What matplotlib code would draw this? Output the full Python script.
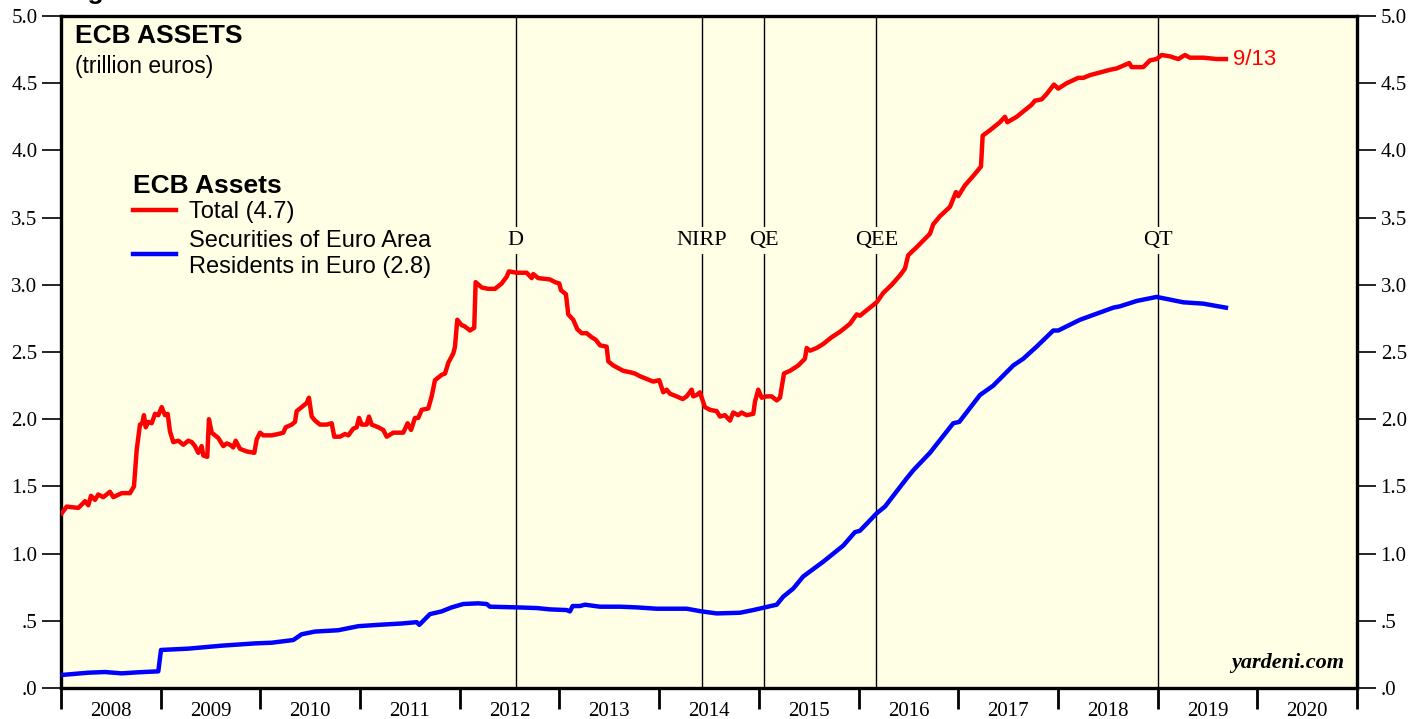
import numpy as np
import matplotlib.pyplot as plt
from matplotlib.ticker import FixedLocator, NullFormatter

# ECB total assets (trillion euros), weekly-ish readings
total_t = [2008.007, 2008.057, 2008.174, 2008.241, 2008.274, 2008.301, 2008.341, 2008.374, 2008.424, 2008.491,
           2008.525, 2008.609, 2008.692, 2008.732, 2008.759, 2008.792, 2008.815, 2008.832, 2008.850, 2008.876,
           2008.910, 2008.943, 2008.976, 2009.010, 2009.043, 2009.070, 2009.093, 2009.126, 2009.177, 2009.227,
           2009.277, 2009.311, 2009.344, 2009.377, 2009.411, 2009.427, 2009.467, 2009.484, 2009.512, 2009.578,
           2009.628, 2009.662, 2009.695, 2009.728, 2009.752, 2009.795, 2009.863, 2009.939, 2009.963, 2009.996,
           2010.029, 2010.113, 2010.180, 2010.230, 2010.254, 2010.314, 2010.347, 2010.364, 2010.430, 2010.464,
           2010.487, 2010.515, 2010.548, 2010.598, 2010.665, 2010.715, 2010.741, 2010.798, 2010.849, 2010.882,
           2010.932, 2010.966, 2010.989, 2011.016, 2011.066, 2011.089, 2011.116, 2011.183, 2011.233, 2011.267,
           2011.333, 2011.433, 2011.477, 2011.511, 2011.551, 2011.584, 2011.618, 2011.684, 2011.718, 2011.751,
           2011.818, 2011.852, 2011.885, 2011.935, 2011.952, 2011.975, 2012.019, 2012.052, 2012.102, 2012.145,
           2012.159, 2012.220, 2012.286, 2012.353, 2012.420, 2012.470, 2012.493, 2012.571, 2012.671, 2012.721,
           2012.737, 2012.787, 2012.905, 2012.955, 2012.998, 2013.015, 2013.065, 2013.088, 2013.138, 2013.179,
           2013.223, 2013.273, 2013.323, 2013.366, 2013.406, 2013.473, 2013.490, 2013.540, 2013.640, 2013.707,
           2013.757, 2013.807, 2013.875, 2013.941, 2014.001, 2014.041, 2014.075, 2014.108, 2014.175, 2014.236,
           2014.276, 2014.326, 2014.342, 2014.376, 2014.409, 2014.459, 2014.509, 2014.577, 2014.610, 2014.660,
           2014.710, 2014.743, 2014.793, 2014.827, 2014.877, 2014.944, 2014.961, 2014.994, 2015.028, 2015.078,
           2015.128, 2015.179, 2015.212, 2015.252, 2015.312, 2015.395, 2015.462, 2015.480, 2015.513, 2015.580,
           2015.646, 2015.730, 2015.813, 2015.914, 2015.981, 2016.014, 2016.097, 2016.182, 2016.248, 2016.332,
           2016.415, 2016.465, 2016.498, 2016.583, 2016.716, 2016.749, 2016.816, 2016.917, 2016.977, 2017.000,
           2017.067, 2017.150, 2017.228, 2017.245, 2017.318, 2017.418, 2017.468, 2017.492, 2017.586, 2017.686,
           2017.736, 2017.769, 2017.837, 2017.887, 2017.960, 2018.003, 2018.087, 2018.204, 2018.254, 2018.321,
           2018.421, 2018.522, 2018.589, 2018.715, 2018.739, 2018.823, 2018.856, 2018.923, 2018.990, 2019.040,
           2019.123, 2019.207, 2019.274, 2019.324, 2019.457, 2019.592, 2019.685]
total_v = [1.30, 1.35, 1.34, 1.39, 1.36, 1.43, 1.40, 1.44, 1.42, 1.46,
           1.42, 1.45, 1.45, 1.50, 1.77, 1.96, 1.97, 2.03, 1.94, 1.98,
           1.97, 2.04, 2.03, 2.09, 2.03, 2.04, 1.91, 1.83, 1.84, 1.81,
           1.84, 1.83, 1.80, 1.75, 1.80, 1.73, 1.72, 2.00, 1.90, 1.86,
           1.80, 1.82, 1.81, 1.79, 1.84, 1.78, 1.76, 1.75, 1.85, 1.90,
           1.88, 1.88, 1.89, 1.90, 1.94, 1.96, 1.98, 2.06, 2.10, 2.12,
           2.16, 2.02, 1.99, 1.96, 1.96, 1.97, 1.87, 1.87, 1.89, 1.88,
           1.93, 1.94, 2.01, 1.96, 1.96, 2.02, 1.96, 1.94, 1.92, 1.87,
           1.90, 1.90, 1.97, 1.92, 2.01, 2.01, 2.07, 2.08, 2.17, 2.29,
           2.33, 2.34, 2.42, 2.49, 2.54, 2.74, 2.70, 2.69, 2.66, 2.68,
           3.02, 2.98, 2.97, 2.97, 3.01, 3.06, 3.10, 3.09, 3.09, 3.05,
           3.08, 3.05, 3.04, 3.02, 3.01, 2.96, 2.93, 2.78, 2.74, 2.67,
           2.64, 2.64, 2.61, 2.59, 2.55, 2.54, 2.43, 2.40, 2.36, 2.35,
           2.34, 2.32, 2.30, 2.28, 2.29, 2.20, 2.22, 2.19, 2.17, 2.15,
           2.17, 2.22, 2.17, 2.18, 2.20, 2.09, 2.07, 2.06, 2.02, 2.03,
           1.99, 2.05, 2.03, 2.05, 2.03, 2.04, 2.13, 2.22, 2.16, 2.17,
           2.17, 2.14, 2.16, 2.34, 2.36, 2.40, 2.45, 2.53, 2.51, 2.53,
           2.56, 2.61, 2.65, 2.71, 2.78, 2.77, 2.82, 2.87, 2.94, 3.00,
           3.07, 3.12, 3.22, 3.28, 3.38, 3.45, 3.51, 3.58, 3.69, 3.66,
           3.74, 3.81, 3.88, 4.11, 4.15, 4.21, 4.25, 4.21, 4.25, 4.31,
           4.34, 4.37, 4.38, 4.42, 4.49, 4.46, 4.50, 4.54, 4.54, 4.56,
           4.58, 4.60, 4.61, 4.65, 4.62, 4.62, 4.62, 4.67, 4.68, 4.71,
           4.70, 4.68, 4.71, 4.69, 4.69, 4.68, 4.68]

# securities of euro area residents in euro
sec_t = [2008.007, 2008.274, 2008.441, 2008.609, 2008.775, 2008.976, 2009.003, 2009.277, 2009.612, 2009.946,
         2010.113, 2010.330, 2010.414, 2010.548, 2010.781, 2010.982, 2011.183, 2011.417, 2011.568, 2011.594,
         2011.701, 2011.818, 2011.919, 2012.035, 2012.186, 2012.270, 2012.303, 2012.571, 2012.771, 2012.905,
         2013.072, 2013.105, 2013.132, 2013.206, 2013.256, 2013.406, 2013.607, 2013.774, 2013.975, 2014.276,
         2014.426, 2014.577, 2014.810, 2014.944, 2015.061, 2015.179, 2015.245, 2015.345, 2015.445, 2015.646,
         2015.847, 2015.964, 2016.014, 2016.182, 2016.265, 2016.483, 2016.549, 2016.716, 2016.950, 2017.010,
         2017.218, 2017.351, 2017.552, 2017.652, 2017.786, 2017.953, 2018.003, 2018.221, 2018.555, 2018.622,
         2018.790, 2018.990, 2019.257, 2019.457, 2019.685]
sec_v = [0.097, 0.114, 0.119, 0.109, 0.117, 0.124, 0.283, 0.293, 0.315, 0.332,
         0.337, 0.357, 0.40, 0.42, 0.43, 0.46, 0.47, 0.48, 0.49, 0.47,
         0.55, 0.57, 0.60, 0.625, 0.63, 0.625, 0.605, 0.60, 0.595, 0.585,
         0.58, 0.57, 0.61, 0.61, 0.62, 0.605, 0.605, 0.60, 0.59, 0.59,
         0.57, 0.555, 0.56, 0.58, 0.60, 0.62, 0.68, 0.74, 0.83, 0.94,
         1.06, 1.16, 1.17, 1.30, 1.35, 1.56, 1.62, 1.75, 1.97, 1.98,
         2.18, 2.25, 2.40, 2.45, 2.54, 2.66, 2.66, 2.74, 2.83, 2.84,
         2.88, 2.91, 2.87, 2.86, 2.83]

event_t = [2012.56, 2014.43, 2015.05, 2016.18, 2019.0]
event_labels = ['D', 'NIRP', 'QE', 'QEE', 'QT']

years = list(range(2008, 2021))
yticks = [0, 0.5, 1.0, 1.5, 2.0, 2.5, 3.0, 3.5, 4.0, 4.5, 5.0]
ytick_labels = ['.0', '.5', '1.0', '1.5', '2.0', '2.5', '3.0', '3.5', '4.0', '4.5', '5.0']

bg = '#ffffe6'
serif = 'Liberation Serif'
sans = 'Liberation Sans'

fig = plt.figure(figsize=(14.22, 7.19), dpi=100)
ax = fig.add_axes([0.0429, 0.0431, 0.9114, 0.9346])
ax.set_facecolor(bg)

ax.set_xlim(2008, 2021)
ax.set_ylim(0, 5)

for t, lab in zip(event_t, event_labels):
    ax.axvline(t, color='black', lw=1, zorder=1)
    ax.text(t, 3.33, lab, ha='center', va='center', fontsize=16, family=serif,
            bbox=dict(facecolor=bg, edgecolor='none', pad=3), zorder=2)

ax.plot(total_t, total_v, color='#ff0000', lw=3.2, label='Total (4.7)', zorder=3)
ax.plot(sec_t, sec_v, color='#0000ff', lw=3.2,
        label='Securities of Euro Area\nResidents in Euro (2.8)', zorder=3)

ax.text(total_t[-1] + 0.07, total_v[-1], '9/13', color='#ff0000', fontsize=16,
        family=sans, va='center', ha='left')

# year boundaries as major ticks, labels centred in between
ax.xaxis.set_major_locator(FixedLocator(years + [2021]))
ax.xaxis.set_major_formatter(NullFormatter())
ax.xaxis.set_minor_locator(FixedLocator([y + 0.5 for y in years]))
ax.set_xticklabels([str(y) for y in years], minor=True)
ax.tick_params(axis='x', which='major', direction='out', length=15, width=2)
ax.tick_params(axis='x', which='minor', length=0, pad=10, labelsize=15)
for lab in ax.get_xticklabels(minor=True):
    lab.set_family(serif)

ax.set_yticks(yticks)
ax.set_yticklabels(ytick_labels)
ax.tick_params(axis='y', which='major', direction='out', length=14, width=1.2,
               left=True, right=True, labelleft=True, labelright=True, labelsize=15, pad=3)
for lab in ax.get_yticklabels():
    lab.set_family(serif)

for s in ax.spines.values():
    s.set_linewidth(2.4)

ax.text(0.011, 0.970, 'ECB ASSETS', transform=ax.transAxes, fontsize=19, fontweight='bold',
        family=sans, va='center', ha='left')
ax.text(0.011, 0.925, '(trillion euros)', transform=ax.transAxes, fontsize=16.5,
        family=sans, va='center', ha='left')

leg = ax.legend(loc='upper left', bbox_to_anchor=(0.0465, 0.782), frameon=False,
                title='ECB Assets', alignment='left', handlelength=1.8, handletextpad=0.55,
                labelspacing=0.3, borderpad=0, prop={'family': sans, 'size': 17},
                title_fontproperties={'family': sans, 'size': 19, 'weight': 'bold'})
leg._legend_box.sep = 2

ax.text(0.99, 0.022, 'yardeni.com', transform=ax.transAxes, fontsize=16, fontweight='bold',
        style='italic', family=serif, ha='right', va='bottom')

fig.text(0.045, 1.002, 'Figure 1.', fontsize=19, fontweight='bold', family=sans,
         ha='left', va='baseline')

fig.savefig('out.png', dpi=100, facecolor='white')
